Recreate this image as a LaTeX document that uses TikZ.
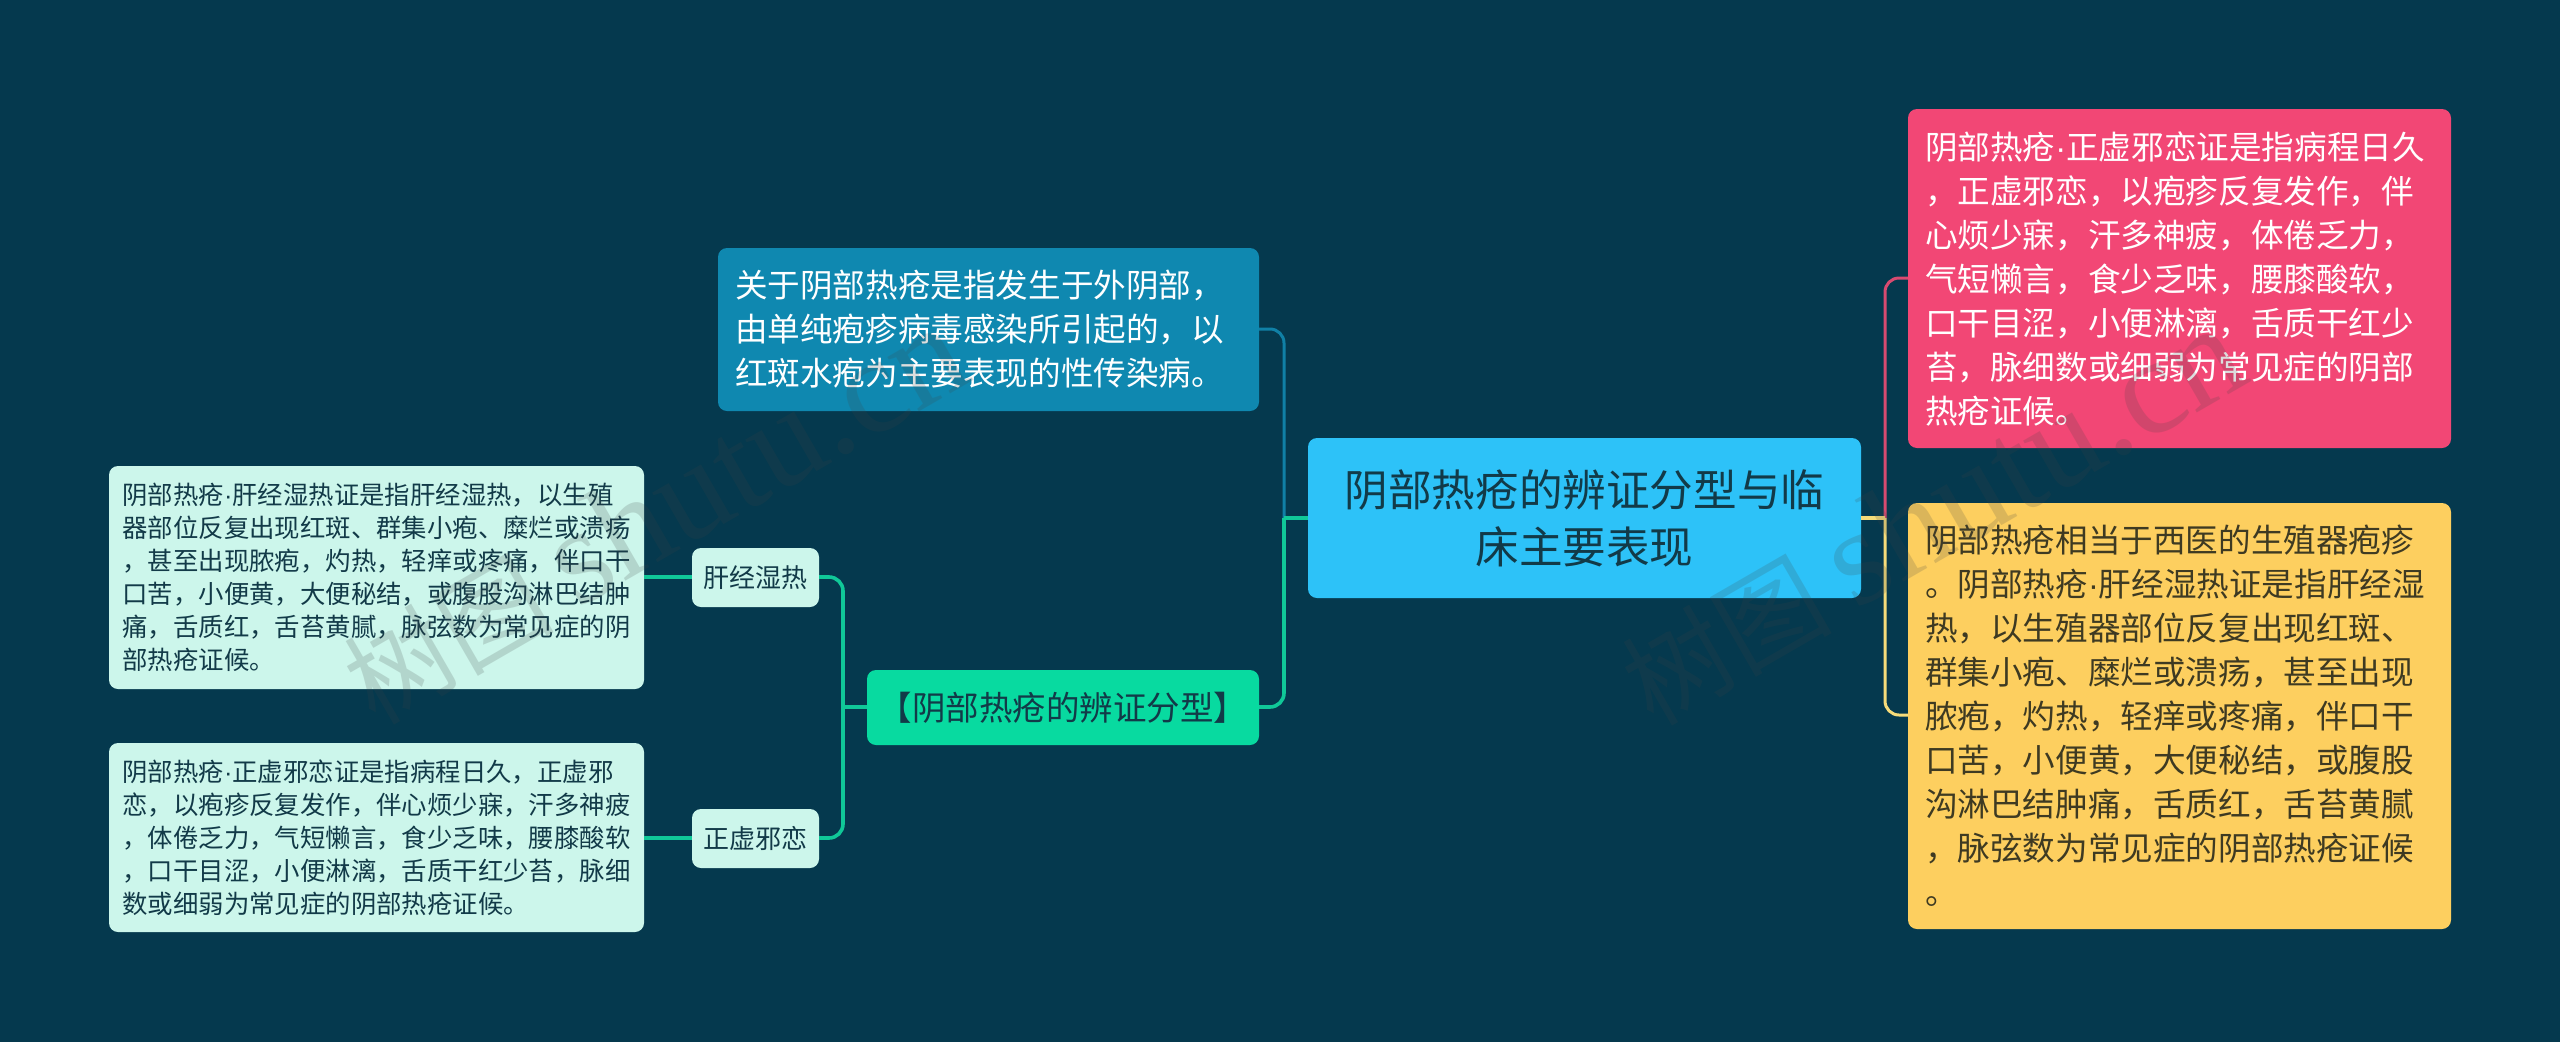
\documentclass[tikz,border=0pt]{standalone}
\usepackage{fontspec}
\setmainfont{Noto Sans CJK SC}
\newfontfamily\wmfont{Liberation Serif}
\newfontfamily\dotfont{Liberation Sans}
\definecolor{bgc}{HTML}{05394E}
\definecolor{centerc}{HTML}{2DC2F8}
\definecolor{bluec}{HTML}{0F88B0}
\definecolor{greenc}{HTML}{08DAA0}
\definecolor{pinkc}{HTML}{F24775}
\definecolor{yellowc}{HTML}{FDCF5F}
\definecolor{lightc}{HTML}{CCF6EB}
\definecolor{darkt}{HTML}{123A48}
\definecolor{yellowt}{HTML}{3E3A22}
\definecolor{pinkl}{HTML}{D84A70}
\definecolor{bluel}{HTML}{1080A6}
\definecolor{greenl}{HTML}{10C898}
\definecolor{yellowl}{HTML}{F6DC7A}
\definecolor{wmc}{HTML}{404444}
\tikzset{
  x=1pt,y=-1pt,
  boxbase/.style={rounded corners=9pt,inner sep=0pt,outer sep=0pt,anchor=north west,align=left},
  link/.style={line width=3pt,rounded corners=14pt},
  linkg/.style={line width=3.6pt,rounded corners=14pt,greenl},
  stub/.style={line width=4.5pt},
  wmark/.style={rotate=30,opacity=.18,text=wmc,anchor=center,font=\fontsize{105}{105}\selectfont},
}
\newcommand{\bsize}{\fontsize{32.6}{44}\selectfont}
\newcommand{\ssize}{\fontsize{25.4}{33}\selectfont}
\newcommand{\tsize}{\fontsize{43.6}{57}\selectfont}
\newcommand{\dotc}{{\dotfont ·}}
\newcommand{\wmtext}{树图 {\wmfont\fontsize{137}{137}\selectfont shutu.cn}}
\begin{document}
\begin{tikzpicture}
\useasboundingbox[fill=bgc] (0,0) rectangle (2560,1042);
% nodes
\node[boxbase,fill=centerc,text=darkt,minimum width=553pt,minimum height=160pt,align=center,font=\tsize] (center) at (1308,438) {阴部热疮的辨证分型与临\\床主要表现};
\node[boxbase,fill=bluec,text=white,minimum width=541pt,minimum height=163pt,text width=507pt,font=\bsize] (intro) at (718,248) {关于阴部热疮是指发生于外阴部，\\由单纯疱疹病毒感染所引起的，以\\红斑水疱为主要表现的性传染病。};
\node[boxbase,fill=greenc,text=darkt,minimum width=392pt,minimum height=75pt,align=center,font=\fontsize{33.5}{40}\selectfont] (types) at (867,670) {【阴部热疮的辨证分型】};
\node[boxbase,fill=pinkc,text=white,minimum width=543pt,minimum height=339pt,text width=509pt,font=\bsize] (pink) at (1908,109) {阴部热疮\dotc 正虚邪恋证是指病程日久\\，正虚邪恋，以疱疹反复发作，伴\\心烦少寐，汗多神疲，体倦乏力，\\气短懒言，食少乏味，腰膝酸软，\\口干目涩，小便淋漓，舌质干红少\\苔，脉细数或细弱为常见症的阴部\\热疮证候。};
\node[boxbase,fill=yellowc,text=yellowt,minimum width=543pt,minimum height=426pt,text width=509pt,font=\bsize] (yellow) at (1908,503) {阴部热疮相当于西医的生殖器疱疹\\。阴部热疮\dotc 肝经湿热证是指肝经湿\\热，以生殖器部位反复出现红斑、\\群集小疱、糜烂或溃疡，甚至出现\\脓疱，灼热，轻痒或疼痛，伴口干\\口苦，小便黄，大便秘结，或腹股\\沟淋巴结肿痛，舌质红，舌苔黄腻\\，脉弦数为常见症的阴部热疮证候\\。};
\node[boxbase,fill=lightc,text=darkt,minimum width=535pt,minimum height=223pt,text width=508pt,font=\ssize] (leafa) at (109,466) {阴部热疮\dotc 肝经湿热证是指肝经湿热，以生殖\\器部位反复出现红斑、群集小疱、糜烂或溃疡\\，甚至出现脓疱，灼热，轻痒或疼痛，伴口干\\口苦，小便黄，大便秘结，或腹股沟淋巴结肿\\痛，舌质红，舌苔黄腻，脉弦数为常见症的阴\\部热疮证候。};
\node[boxbase,fill=lightc,text=darkt,minimum width=535pt,minimum height=189pt,text width=508pt,font=\ssize] (leafb) at (109,743) {阴部热疮\dotc 正虚邪恋证是指病程日久，正虚邪\\恋，以疱疹反复发作，伴心烦少寐，汗多神疲\\，体倦乏力，气短懒言，食少乏味，腰膝酸软\\，口干目涩，小便淋漓，舌质干红少苔，脉细\\数或细弱为常见症的阴部热疮证候。};
\node[boxbase,fill=lightc,text=darkt,minimum width=127pt,minimum height=59pt,align=center,font=\fontsize{26}{33}\selectfont] (suba) at (692,548) {肝经湿热};
\node[boxbase,fill=lightc,text=darkt,minimum width=127pt,minimum height=59pt,align=center,font=\fontsize{26}{33}\selectfont] (subb) at (692,809) {正虚邪恋};
% connectors
\coordinate (cl) at (1308,518);
\coordinate (cr) at (1861,518);
\coordinate (il) at (1259,329);
\coordinate (tl) at (1259,707);
\coordinate (pl) at (1908,278);
\coordinate (yl) at (1908,715);
\coordinate (tw) at (867,707);
\coordinate (sa) at (819,577);
\coordinate (sb) at (819,838);
\coordinate (jl) at (1284,518);
\coordinate (jr) at (1885,518);
\coordinate (jt) at (843,707);
\draw[link,bluel] (il) -- (1284,329) -- (jl);
\draw[linkg] (tl) -- (1284,707) -- (jl);
\draw[stub,greenl] (jl) -- (cl);
\draw[link,pinkl] (pl) -- (1885,278) -- (jr);
\draw[link,yellowl] (yl) -- (1885,715) -- (jr);
\draw[stub,yellowl] (jr) -- (cr);
\draw[linkg] (sa) -- (843,577) -- (843,838) -- (sb);
\draw[stub,greenl] (tw) -- (jt);
\draw[stub,greenl] (leafa.east |- sa) -- (suba.west |- sa);
\draw[stub,greenl] (leafb.east |- sb) -- (subb.west |- sb);
% watermark
\node[wmark] (wma) at (654,515) {\wmtext};
\node[wmark] (wmb) at (1932,516) {\wmtext};
\end{tikzpicture}
\end{document}
